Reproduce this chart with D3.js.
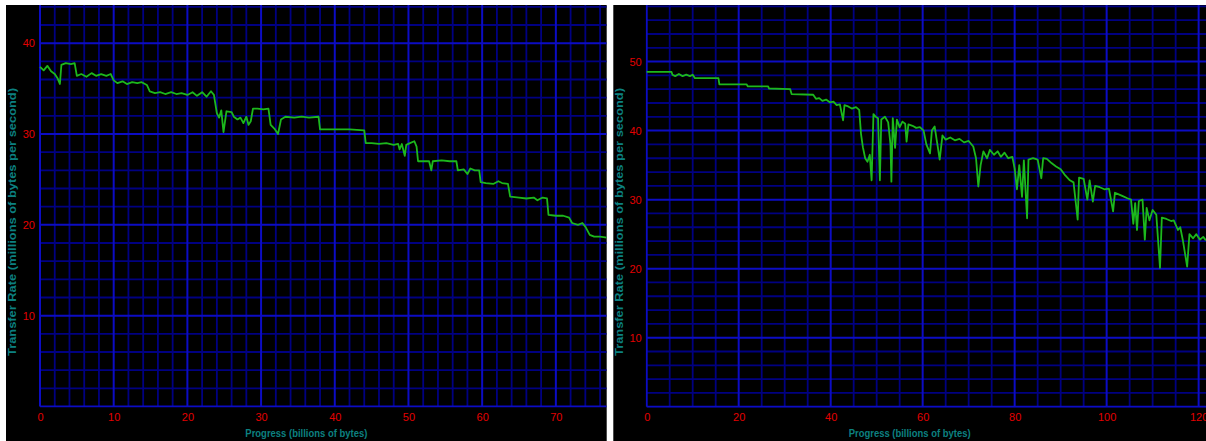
<!DOCTYPE html>
<html>
<head>
<meta charset="utf-8">
<script src="https://cdn.jsdelivr.net/npm/d3@7"></script>
<style>
  html, body { margin: 0; padding: 0; background: #fff; }
  svg { display: block; }
</style>
</head>
<body>
<div id="chart"></div>
<script>
// Left drive: progress (billions of bytes) vs transfer rate (MB/s)
const leftProgress = [0, 0.5, 1.0, 1.5, 2.0, 2.4, 2.7, 2.9, 3.5, 4.2, 4.7, 5.0, 5.6, 6.3, 7.0, 7.6, 8.3, 9.0, 9.6,
  10.0, 10.5, 11.2, 11.8, 12.5, 13.2, 13.8, 14.5, 14.9, 15.6, 16.3, 17.0, 17.8, 18.5, 19.2, 20.0, 20.7, 21.3,
  22.0, 22.6, 23.2, 23.6, 24.0, 24.3, 24.6, 24.9, 25.3, 26.0, 26.3, 26.8, 27.2, 27.6, 28.0, 28.3, 28.6, 28.9,
  29.5, 30.3, 31.0, 31.3, 31.8, 32.3, 32.7, 33.3, 34.5, 35.5, 36.5, 37.8, 38.0, 40.0, 42.0, 44.0, 44.2, 45.0,
  46.0, 47.0, 48.0, 48.6, 48.8, 49.1, 49.5, 49.7, 50.2, 50.8, 51.1, 51.3, 52.0, 52.8, 53.1, 53.3, 54.5, 55.6,
  56.5, 56.7, 57.5, 58.0, 58.4, 59.0, 59.6, 59.8, 60.5, 61.5, 62.2, 62.7, 63.5, 63.8, 65.0, 66.0, 67.0, 67.5,
  68.2, 68.8, 69.0, 70.0, 71.0, 71.8, 72.2, 73.0, 73.6, 74.0, 74.6, 75.2, 76.0, 76.9];
const leftRate = [37.4, 37.0, 37.5, 36.9, 36.6, 36.1, 35.5, 37.6, 37.8, 37.7, 37.8, 36.4, 36.6, 36.3, 36.7, 36.4, 36.6, 36.4, 36.6,
  35.9, 35.6, 35.8, 35.5, 35.7, 35.6, 35.7, 35.4, 34.7, 34.5, 34.6, 34.4, 34.6, 34.4, 34.5, 34.3, 34.6, 34.2,
  34.6, 34.1, 34.7, 34.3, 32.3, 31.8, 32.6, 30.2, 32.5, 32.4, 31.9, 31.6, 31.8, 31.2, 31.9, 31.0, 31.4, 32.8,
  32.8, 32.7, 32.8, 31.0, 30.6, 30.0, 31.6, 31.9, 31.8, 31.9, 31.8, 31.9, 30.5, 30.5, 30.5, 30.4, 29.0, 29.0,
  28.9, 29.0, 28.8, 28.9, 28.3, 28.9, 27.6, 28.8, 29.0, 29.2, 28.6, 27.0, 27.0, 27.0, 26.0, 27.0, 27.1, 27.0,
  27.0, 26.0, 26.1, 25.6, 26.2, 26.0, 26.0, 24.7, 24.6, 24.5, 24.8, 24.6, 24.5, 23.1, 23.0, 22.9, 23.0, 22.7,
  23.0, 22.9, 21.1, 21.0, 21.0, 20.8, 20.2, 20.0, 20.2, 19.8, 18.9, 18.7, 18.7, 18.6];
const leftXTicks = [0, 10, 20, 30, 40, 50, 60, 70];
const leftYTicks = [10, 20, 30, 40];

// Right drive
const rightProgress = [0, 5.4, 5.6, 6.2, 7.0, 7.8, 8.6, 9.4, 10.0, 10.5, 15.6, 15.8, 21.7, 22.0, 26.4, 26.6, 31.2, 31.5,
  36.2, 36.8, 37.5, 38.2, 39.0, 39.8, 40.6, 41.3, 42.0, 42.7, 43.0, 43.8, 44.6, 45.5, 46.2, 46.6, 47.0, 47.5,
  48.0, 48.5, 48.9, 49.3, 49.8, 50.3, 50.7, 51.0, 51.8, 52.5, 53.0, 53.2, 53.5, 54.0, 54.4, 55.0, 55.6, 56.2,
  56.5, 56.9, 57.8, 58.6, 59.4, 60.2, 60.8, 61.6, 62.0, 62.6, 63.2, 63.7, 64.3, 65.0, 66.0, 67.0, 68.0, 69.0,
  70.0, 71.0, 71.6, 72.1, 72.6, 73.2, 74.0, 74.6, 75.5, 76.3, 77.0, 77.8, 78.6, 79.5, 80.0, 80.5, 81.0, 81.6,
  82.0, 82.7, 83.0, 84.0, 85.0, 85.8, 86.2, 87.0, 88.0, 89.0, 90.0, 91.0, 92.0, 92.8, 93.7, 94.0, 95.0, 95.8,
  96.3, 97.0, 97.5, 98.5, 99.5, 100.5, 101.4, 101.8, 102.5, 103.5, 104.5, 105.3, 105.8, 106.2, 106.6, 107.0,
  107.8, 108.3, 108.7, 109.3, 110.0, 110.8, 111.6, 112.0, 113.0, 114.0, 114.6, 115.5, 116.0, 116.6, 117.5,
  118.0, 118.8, 119.5, 120.3, 121.0, 121.6];
const rightRate = [48.5, 48.5, 48.1, 47.9, 48.2, 47.9, 48.1, 47.9, 48.1, 47.6, 47.6, 46.7, 46.7, 46.4, 46.4, 46.1, 46.0, 45.3,
  45.2, 44.6, 44.7, 44.3, 44.5, 44.1, 44.2, 43.7, 43.8, 41.5, 43.7, 43.5, 43.2, 43.4, 43.0, 39.5, 37.6, 36.0,
  35.5, 36.5, 32.8, 42.4, 42.0, 41.8, 32.8, 41.6, 42.0, 41.2, 38.0, 32.6, 41.8, 37.5, 41.6, 40.5, 41.3, 41.0,
  38.4, 40.9, 40.7, 40.4, 40.5, 40.0, 38.0, 36.7, 40.0, 40.6, 38.0, 35.8, 39.3, 38.7, 39.0, 38.6, 38.8, 38.3,
  38.5, 37.7, 36.0, 31.9, 35.0, 37.0, 36.0, 37.2, 36.5, 37.0, 36.2, 36.8, 36.0, 36.2, 34.5, 31.5, 35.0, 30.4,
  35.7, 27.3, 35.8, 36.0, 35.8, 33.1, 36.0, 35.9, 35.3, 34.8, 34.4, 33.5, 32.8, 32.5, 27.1, 33.2, 33.0, 30.0,
  32.8, 29.7, 32.0, 31.8, 31.5, 31.6, 28.3, 31.0, 30.8, 30.5, 30.2, 30.0, 26.5, 29.5, 25.6, 29.8,
  30.0, 24.2, 28.8, 27.0, 28.5, 27.8, 20.1, 27.4, 27.2, 26.9, 27.0, 25.6, 26.0, 24.0, 20.3,
  25.0, 24.4, 25.0, 24.2, 24.6, 24.1];
const rightXTicks = [0, 20, 40, 60, 80, 100, 120];
const rightYTicks = [10, 20, 30, 40, 50];

const xTitle = 'Progress (billions of bytes)';
const yTitle = 'Transfer Rate (millions of bytes per second)';

const W = 1206, H = 441;
const svg = d3.select('#chart').append('svg')
  .attr('width', W)
  .attr('height', H);

svg.append('rect').attr('width', W).attr('height', H).attr('fill', '#fff');

function drawPanel(p) {
  const g = svg.append('g');

  g.append('rect')
    .attr('x', p.panelLeft).attr('y', p.panelTop)
    .attr('width', p.panelRight - p.panelLeft)
    .attr('height', H - p.panelTop)
    .attr('fill', '#000');

  const x = d3.scaleLinear().domain([0, p.xMax]).range([p.plotLeft, p.plotRight]);
  const y = d3.scaleLinear().domain([0, p.yMax]).range([p.plotBottom, p.plotTop]);

  const plot = g.append('g');
  plot.append('clipPath').attr('id', 'clip-' + p.id)
    .append('rect')
    .attr('x', p.plotLeft - 1).attr('y', p.plotTop)
    .attr('width', p.plotRight - p.plotLeft + 1)
    .attr('height', p.plotBottom - p.plotTop + 1);

  const grid = plot.append('g').attr('clip-path', `url(#clip-${p.id})`);

  // grid lines: minor every step, brighter major every major step
  const xMinor = d3.range(0, p.xMax, p.xMinorStep).filter(v => v % p.xMajorStep !== 0);
  const yMinor = d3.range(0, p.yMax, p.yMinorStep).filter(v => v % p.yMajorStep !== 0);
  const xMajor = d3.range(0, p.xMax, p.xMajorStep);
  const yMajor = d3.range(0, p.yMax, p.yMajorStep);

  grid.selectAll('.vminor').data(xMinor).enter().append('line')
    .attr('x1', d => x(d)).attr('x2', d => x(d))
    .attr('y1', p.plotTop).attr('y2', p.plotBottom)
    .attr('stroke', '#000082').attr('stroke-width', 1.8);
  grid.selectAll('.hminor').data(yMinor).enter().append('line')
    .attr('x1', p.plotLeft).attr('x2', p.plotRight)
    .attr('y1', d => y(d)).attr('y2', d => y(d))
    .attr('stroke', '#000082').attr('stroke-width', 1.8);

  grid.selectAll('.vmajor').data(xMajor).enter().append('line')
    .attr('x1', d => x(d)).attr('x2', d => x(d))
    .attr('y1', p.plotTop).attr('y2', p.plotBottom)
    .attr('stroke', '#0c0cc4').attr('stroke-width', 2);
  grid.selectAll('.hmajor').data(yMajor).enter().append('line')
    .attr('x1', p.plotLeft).attr('x2', p.plotRight)
    .attr('y1', d => y(d)).attr('y2', d => y(d))
    .attr('stroke', '#0c0cc4').attr('stroke-width', 2);

  // data line
  const pts = p.xs.map((v, i) => [v, p.ys[i]]);
  grid.append('path')
    .datum(pts)
    .attr('fill', 'none')
    .attr('stroke', '#1cb81c')
    .attr('stroke-width', 1.8)
    .attr('stroke-linejoin', 'round')
    .attr('d', d3.line().x(d => x(d[0])).y(d => y(d[1])));

  // tick labels
  const xAxis = g.append('g')
    .attr('transform', `translate(0,${p.plotBottom})`)
    .call(d3.axisBottom(x).tickValues(p.xTicks).tickSize(0).tickPadding(7).tickFormat(d3.format('d')));
  const yAxis = g.append('g')
    .attr('transform', `translate(${p.plotLeft},0)`)
    .call(d3.axisLeft(y).tickValues(p.yTicks).tickSize(0).tickPadding(5).tickFormat(d3.format('d')));
  [xAxis, yAxis].forEach(a => {
    a.select('.domain').remove();
    a.selectAll('text')
      .attr('fill', '#e30000')
      .style('font-family', '"Liberation Sans", Arial, sans-serif')
      .style('font-size', '11px');
  });

  // axis titles
  g.append('text')
    .attr('x', (p.panelLeft + p.panelRight) / 2)
    .attr('y', 437)
    .attr('text-anchor', 'middle')
    .attr('textLength', 122)
    .attr('lengthAdjust', 'spacingAndGlyphs')
    .attr('fill', '#0c8080')
    .style('font-family', '"Liberation Sans", Arial, sans-serif')
    .style('font-size', '10px')
    .style('font-weight', 'bold')
    .text(xTitle);

  g.append('text')
    .attr('transform', `translate(${p.panelLeft + 10},222) rotate(-90)`)
    .attr('text-anchor', 'middle')
    .attr('textLength', 268)
    .attr('lengthAdjust', 'spacingAndGlyphs')
    .attr('fill', '#0c8080')
    .style('font-family', '"Liberation Sans", Arial, sans-serif')
    .style('font-size', '10px')
    .style('font-weight', 'bold')
    .text(yTitle);
}

drawPanel({
  id: 'left',
  panelLeft: 6, panelRight: 606.7, panelTop: 5,
  plotLeft: 40, plotRight: 606.7, plotTop: 5, plotBottom: 406.5,
  xMax: 76.9, yMax: 44.2,
  xMinorStep: 2, xMajorStep: 10, yMinorStep: 2, yMajorStep: 10,
  xs: leftProgress, ys: leftRate,
  xTicks: leftXTicks, yTicks: leftYTicks
});

drawPanel({
  id: 'right',
  panelLeft: 613.3, panelRight: 1206, panelTop: 5,
  plotLeft: 646.7, plotRight: 1206, plotTop: 5, plotBottom: 406.7,
  xMax: 121.6, yMax: 58.2,
  xMinorStep: 5, xMajorStep: 20, yMinorStep: 2, yMajorStep: 10,
  xs: rightProgress, ys: rightRate,
  xTicks: rightXTicks, yTicks: rightYTicks
});
</script>
</body>
</html>
